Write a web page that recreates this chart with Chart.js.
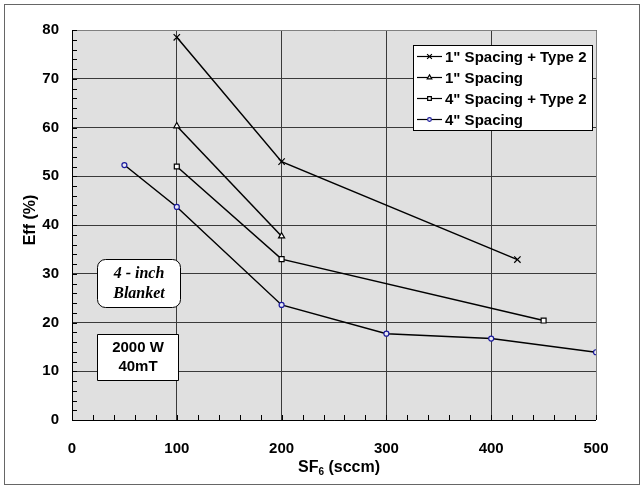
<!DOCTYPE html>
<html lang="en">
<head>
  <meta charset="UTF-8">
  <title>Eff vs SF6</title>
  <script src="https://cdn.jsdelivr.net/npm/chart.js@4.4.1/dist/chart.umd.min.js"></script>
  <style>
    body { margin: 0; background: #fff; }
    #wrap { width: 644px; height: 489px; }
  </style>
</head>
<body>
  <div id="wrap">
    <canvas id="effChart" width="644" height="489"></canvas>
  </div>

  <script>
    // series data (x = SF6 sccm, y = Eff %)
    var sp1Type2X = [100, 200, 425];
    var sp1Type2Y = [78.5, 53.0, 32.9];

    var sp1X = [100, 200];
    var sp1Y = [60.3, 37.7];

    var sp4Type2X = [100, 200, 450];
    var sp4Type2Y = [52.0, 33.0, 20.4];

    var sp4X = [50, 100, 200, 300, 400, 500];
    var sp4Y = [52.3, 43.7, 23.6, 17.7, 16.7, 13.9];

    var seriesNames = ['1" Spacing + Type 2', '1" Spacing', '4" Spacing + Type 2', '4" Spacing'];
    var xTicks = [0, 100, 200, 300, 400, 500];
    var yTicks = [0, 10, 20, 30, 40, 50, 60, 70, 80];

    function pts(xs, ys) {
      return xs.map(function (x, i) { return { x: x, y: ys[i] }; });
    }

    var FONT = '"Liberation Sans", Arial, sans-serif';

    var styles = [
      { pointStyle: 'crossRot', radius: 4.5, color: '#000', fill: '#000' },
      { pointStyle: 'triangle', radius: 3.5, color: '#000', fill: '#fff' },
      { pointStyle: 'rect', radius: 3.5, color: '#000', fill: '#fff' },
      { pointStyle: 'circle', radius: 2.5, color: '#1a1a9c', fill: '#e8e8f4' }
    ];
    var allData = [pts(sp1Type2X, sp1Type2Y), pts(sp1X, sp1Y), pts(sp4Type2X, sp4Type2Y), pts(sp4X, sp4Y)];

    var datasets = allData.map(function (d, i) {
      return {
        label: seriesNames[i],
        data: d,
        showLine: true,
        borderColor: '#000',
        borderWidth: 1.5,
        pointStyle: styles[i].pointStyle,
        pointRadius: styles[i].radius,
        pointBorderColor: styles[i].color,
        pointBackgroundColor: styles[i].fill,
        pointBorderWidth: 1.2
      };
    });

    // background, frame, minor ticks, legend, boxes, axis titles
    var decor = {
      id: 'decor',
      beforeDraw: function (chart) {
        var c = chart.ctx, a = chart.chartArea;
        c.save();
        c.fillStyle = '#fff';
        c.fillRect(0, 0, chart.width, chart.height);
        c.strokeStyle = '#666';
        c.lineWidth = 1;
        c.strokeRect(4.5, 4.5, 635, 480);
        c.fillStyle = '#e0e0e0';
        c.fillRect(a.left, a.top, a.right - a.left, a.bottom - a.top);
        c.restore();
      },
      afterDatasetsDraw: function (chart) {
        var c = chart.ctx, a = chart.chartArea;
        var xs = chart.scales.x, ys = chart.scales.y;
        c.save();

        // plot border
        c.strokeStyle = '#808080';
        c.lineWidth = 1;
        c.beginPath();
        c.moveTo(a.left, a.top + 0.5); c.lineTo(a.right + 0.5, a.top + 0.5); c.lineTo(a.right + 0.5, a.bottom);
        c.stroke();
        c.strokeStyle = '#000';
        c.beginPath();
        c.moveTo(a.left + 0.5, a.top); c.lineTo(a.left + 0.5, a.bottom + 0.5); c.lineTo(a.right, a.bottom + 0.5);
        c.stroke();

        // minor ticks, inside
        c.beginPath();
        for (var v = 0; v <= 80; v += 2) {
          var py = Math.round(ys.getPixelForValue(v)) + 0.5;
          c.moveTo(a.left, py); c.lineTo(a.left + 5, py);
        }
        for (var u = 0; u <= 500; u += 20) {
          var px = Math.round(xs.getPixelForValue(u)) + 0.5;
          c.moveTo(px, a.bottom); c.lineTo(px, a.bottom - 5);
        }
        c.stroke();

        // legend
        var lx = 413.5, ly = 45.5, lw = 179, lh = 85;
        c.fillStyle = '#fff';
        c.fillRect(lx, ly, lw, lh);
        c.strokeStyle = '#000';
        c.strokeRect(lx, ly, lw, lh);
        c.font = 'bold 15px ' + FONT;
        c.textBaseline = 'middle';
        c.textAlign = 'left';
        for (var i = 0; i < seriesNames.length; i++) {
          var ry = 56.5 + i * 21;
          c.strokeStyle = '#000';
          c.lineWidth = 1.2;
          c.beginPath(); c.moveTo(417, ry); c.lineTo(442, ry); c.stroke();
          c.fillStyle = styles[i].fill;
          c.strokeStyle = styles[i].color;
          Chart.helpers.drawPoint(c, {
            pointStyle: styles[i].pointStyle, radius: styles[i].radius * 0.75, rotation: 0, borderWidth: 1
          }, 429.5, ry);
          c.fillStyle = '#000';
          c.fillText(seriesNames[i], 445, ry + 1);
        }

        // "4 - inch Blanket" rounded box
        c.fillStyle = '#fff';
        c.strokeStyle = '#000';
        c.lineWidth = 1;
        c.beginPath();
        c.roundRect(97.5, 259.5, 83, 48, 8);
        c.fill(); c.stroke();
        c.fillStyle = '#000';
        c.textAlign = 'center';
        c.font = 'bold italic 16px "Liberation Serif", "Times New Roman", serif';
        c.fillText('4 - inch', 139, 274);
        c.fillText('Blanket', 139, 294);

        // "2000 W 40mT" box
        c.fillStyle = '#fff';
        c.beginPath();
        c.rect(97.5, 334.5, 81, 46);
        c.fill(); c.stroke();
        c.fillStyle = '#000';
        c.font = 'bold 15px ' + FONT;
        c.fillText('2000 W', 138, 348);
        c.fillText('40mT', 138, 367);

        // y title
        c.font = 'bold 16px ' + FONT;
        c.save();
        c.translate(31, 220);
        c.rotate(-Math.PI / 2);
        c.fillText('Eff (%)', 0, 0);
        c.restore();

        // x title with subscript
        c.textAlign = 'left';
        var t1 = 'SF', t2 = '6', t3 = ' (sccm)';
        c.font = 'bold 16px ' + FONT;
        var w1 = c.measureText(t1).width, w3 = c.measureText(t3).width;
        c.font = 'bold 10px ' + FONT;
        var w2 = c.measureText(t2).width;
        var sx = 339 - (w1 + w2 + w3) / 2, ty = 468;
        c.font = 'bold 16px ' + FONT;
        c.fillText(t1, sx, ty);
        c.font = 'bold 10px ' + FONT;
        c.fillText(t2, sx + w1, ty + 4);
        c.font = 'bold 16px ' + FONT;
        c.fillText(t3, sx + w1 + w2, ty);

        c.restore();
      }
    };

    new Chart('effChart', {
      type: 'scatter',
      data: { datasets: datasets },
      plugins: [decor],
      options: {
        responsive: false,
        animation: false,
        layout: { padding: { left: 0, top: 30, right: 48, bottom: 0 } },
        plugins: { legend: { display: false }, tooltip: { enabled: false } },
        scales: {
          x: {
            type: 'linear',
            min: 0, max: 500,
            afterBuildTicks: function (s) { s.ticks = xTicks.map(function (v) { return { value: v }; }); },
            afterFit: function (s) { s.height = 69; },
            grid: { color: '#3a3a3a', lineWidth: 1, drawTicks: false },
            border: { display: false },
            ticks: { color: '#000', padding: 20, font: { family: FONT, size: 15, weight: 'bold' }, maxRotation: 0 }
          },
          y: {
            type: 'linear',
            min: 0, max: 80,
            afterBuildTicks: function (s) { s.ticks = yTicks.map(function (v) { return { value: v }; }); },
            afterFit: function (s) { s.width = 72; },
            grid: { color: '#3a3a3a', lineWidth: 1, drawTicks: false },
            border: { display: false },
            ticks: { color: '#000', padding: 13, font: { family: FONT, size: 15, weight: 'bold' } }
          }
        }
      }
    });
  </script>
</body>
</html>
